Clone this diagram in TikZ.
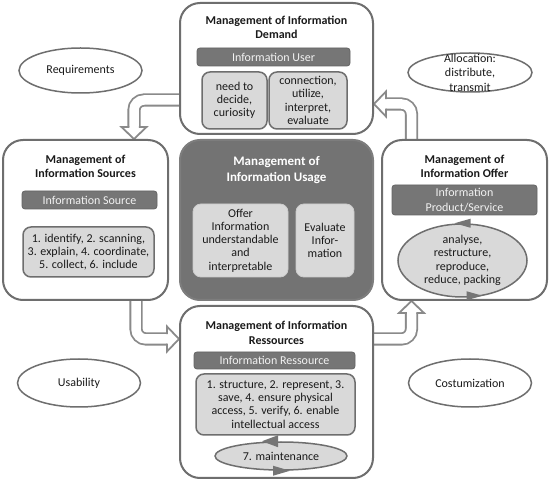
\documentclass[tikz,border=0pt]{standalone}
\usepackage{fontspec}
\setmainfont{Carlito}
\usetikzlibrary{shapes.geometric,calc,backgrounds}
\definecolor{bordergray}{HTML}{6E6E6E}
\definecolor{bargray}{HTML}{767676}
\definecolor{lightbox}{HTML}{D9D9D9}
\definecolor{usagegray}{HTML}{737373}
\definecolor{arrowgray}{HTML}{8A8A8A}
\definecolor{bartext}{HTML}{F2F2F2}
\definecolor{txt}{HTML}{1A1A1A}
\begin{document}
\begin{tikzpicture}[x=1pt,y=-1pt,
  every node/.style={font=\fontsize{12}{13.3}\selectfont, text=txt},
  bigbox/.style={rectangle, draw=bordergray, line width=2, fill=white, rounded corners=20, inner sep=0},
  titletext/.style={font=\bfseries\fontsize{12}{13.5}\selectfont, align=center},
  barbox/.style={rectangle, rounded corners=3, fill=bargray, draw=bargray!85!black, line width=0.8, text=bartext, align=center, inner sep=0},
  innerbox/.style={rectangle, rounded corners=8, fill=lightbox, draw=bordergray, line width=1.5, align=center, inner sep=0},
  oval/.style={ellipse, draw=bordergray, line width=1.5, fill=white, inner sep=0},
  cycleoval/.style={ellipse, draw=bordergray, line width=1.5, fill=lightbox, inner sep=0},
  shaft/.style={draw=arrowgray, line width=1.8, double=white, double distance=9.5, rounded corners=10},
  ahead/.style={draw=arrowgray, line width=1.8, fill=white, line cap=rect, line join=miter},
  tri/.style={fill=bordergray!95, draw=none}
]
\useasboundingbox (0,0) rectangle (550,481);

% Demand
\node[bigbox, minimum width=193, minimum height=131] (demand) at (276.5,68.5) {};
\node[titletext] (demandtitle) at (276.5,27.3) {Management of Information\\Demand};
\node[barbox, minimum width=153, minimum height=18] (userbar) at (273.5,57) {Information User};
\node[innerbox, minimum width=65, minimum height=57] (need) at (234.5,100.5) {need to\\decide,\\curiosity};
\node[innerbox, minimum width=78, minimum height=57] (conn) at (308,100.5) {connection,\\utilize,\\interpret,\\evaluate};

% Sources
\node[bigbox, minimum width=165, minimum height=160] (sources) at (85.5,220) {};
\node[titletext] (sourcestitle) at (85.5,166.3) {Management of\\Information Sources};
\node[barbox, minimum width=135, minimum height=18] (sourcebar) at (89.5,200) {Information Source};
\node[innerbox, minimum width=131, minimum height=50] (steps) at (88.5,252) {1. identify, 2. scanning,\\3. explain, 4. coordinate,\\5. collect, 6. include};

% Usage
\node[bigbox, fill=usagegray, draw=bordergray!90, minimum width=193, minimum height=160] (usage) at (276.5,220) {};
\node[titletext, text=white, font=\bfseries\fontsize{13}{16}\selectfont] (usagetitle) at (276.5,170) {Management of\\Information Usage};
\node[innerbox, draw=lightbox!85!gray, line width=0.8, minimum width=95, minimum height=73] (offerinfo) at (240.5,240.5) {Offer\\Information\\understandable\\and\\interpretable};
\node[innerbox, draw=lightbox!85!gray, line width=0.8, minimum width=58, minimum height=73] (evalinfo) at (325,240.5) {Evaluate\\Infor-\\mation};

% Offer
\node[bigbox, minimum width=165, minimum height=160] (offer) at (464.5,220) {};
\node[titletext] (offertitle) at (464.5,166.3) {Management of\\Information Offer};
\node[barbox, font=\fontsize{12}{14.5}\selectfont, minimum width=145, minimum height=30] (productbar) at (464.5,200) {Information\\Product/Service};
\node[cycleoval, minimum width=129, minimum height=73] (oell) at (462.5,260.5) {};
\node[align=center] (oelltext) at (oell) {analyse,\\restructure,\\reproduce,\\reduce, packing};
\fill[tri] ($(oell.north)+(-8,0)$) -- ($(oell.north)+(8,-4.5)$) -- ($(oell.north)+(8,4.5)$) -- cycle;
\fill[tri] ($(oell.south)+(20,-2)$) -- ($(oell.south)+(4,-6.5)$) -- ($(oell.south)+(4,2.5)$) -- cycle;

% Ressources
\node[bigbox, minimum width=193, minimum height=172] (ressources) at (276.5,392) {};
\node[titletext, font=\bfseries\fontsize{12}{15}\selectfont] (restitle) at (276.5,333) {Management of Information\\Ressources};
\node[barbox, minimum width=161, minimum height=17] (resbar) at (274.5,360.5) {Information Ressource};
\node[innerbox, minimum width=159, minimum height=61] (ressteps) at (275.5,404.5) {1. structure, 2. represent, 3.\\save, 4. ensure physical\\access, 5. verify, 6. enable\\intellectual access};
\node[cycleoval, minimum width=132, minimum height=28] (rell) at (281,456) {};
\node (relltext) at (rell) {7. maintenance};
\fill[tri] ($(rell.north)+(-19,0)$) -- ($(rell.north)+(-3,-6)$) -- ($(rell.north)+(-3,6)$) -- cycle;
\fill[tri] ($(rell.south)+(9,0)$) -- ($(rell.south)+(-8,-5)$) -- ($(rell.south)+(-8,5)$) -- cycle;

% Outer ovals
\node[oval, minimum width=123, minimum height=45] (req) at (80.5,70.5) {};
\node (reqtext) at (req) {Requirements};
\node[oval, minimum width=124, minimum height=39] (alloc) at (470,72.5) {};
\node[align=center, font=\fontsize{12}{14.5}\selectfont] (alloctext) at (alloc) {Allocation:\\distribute,\\transmit};
\node[oval, minimum width=123, minimum height=48] (usab) at (79,383) {};
\node (usabtext) at (usab) {Usability};
\node[oval, minimum width=123, minimum height=48] (cust) at (470,383) {};
\node (custtext) at (cust) {Costumization};

% Block arrows (behind boxes)
\begin{pgfonlayer}{background}
\fill[white] (0,0) rectangle (550,481);
% Demand -> Sources
\coordinate (tl) at (sources.north -| 134,0);
\draw[shaft] ($(demand.west |- 0,100)+(8,0)$) -| ($(tl)+(0,-12)$);
\filldraw[ahead] ($(tl)+(-5.65,-12)$) -- ($(tl)+(-12.5,-12)$) -- (tl) -- ($(tl)+(12.5,-12)$) -- ($(tl)+(5.65,-12)$);
% Sources -> Ressources
\coordinate (bl) at (ressources.west |- 0,339);
\draw[shaft] ($(sources.south -| 136,0)+(0,-8)$) |- ($(bl)+(-12,0)$);
\filldraw[ahead] ($(bl)+(-12,-5.65)$) -- ($(bl)+(-12,-12.5)$) -- (bl) -- ($(bl)+(-12,12.5)$) -- ($(bl)+(-12,5.65)$);
% Ressources -> Offer
\coordinate (br) at (offer.south -| 411.5,0);
\draw[shaft] ($(ressources.east |- 0,339)+(-8,0)$) -| ($(br)+(0,12)$);
\filldraw[ahead] ($(br)+(-5.65,12)$) -- ($(br)+(-12.5,12)$) -- (br) -- ($(br)+(12.5,12)$) -- ($(br)+(5.65,12)$);
% Offer -> Demand
\coordinate (tr) at (demand.east |- 0,104);
\draw[shaft] ($(offer.north -| 411.5,0)+(0,8)$) |- ($(tr)+(12,0)$);
\filldraw[ahead] ($(tr)+(12,-5.65)$) -- ($(tr)+(12,-12.5)$) -- (tr) -- ($(tr)+(12,12.5)$) -- ($(tr)+(12,5.65)$);
\end{pgfonlayer}
\end{tikzpicture}
\end{document}
